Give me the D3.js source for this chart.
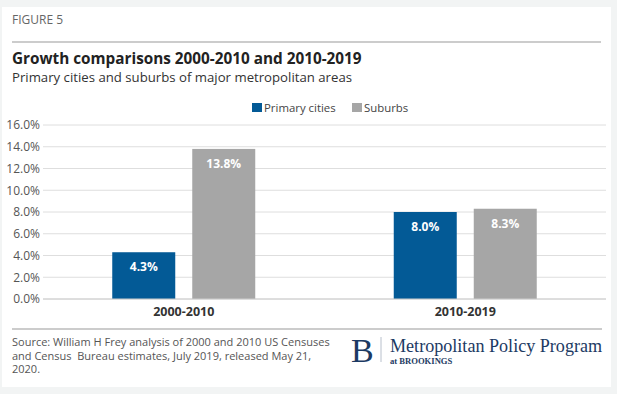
<!DOCTYPE html>
<html><head><meta charset="utf-8">
<script src="https://cdn.jsdelivr.net/npm/d3@7"></script>
<style>
body{margin:0;background:#f2f4f4;}
svg{display:block;}
</style></head><body>
<svg id="c" width="617" height="394"></svg>
<script>
const categories = ["2000-2010", "2010-2019"];
const seriesNames = ["Primary cities", "Suburbs"];
const primaryCities = [4.3, 8.0];
const suburbs = [13.8, 8.3];
const yTicks = [0, 2, 4, 6, 8, 10, 12, 14, 16];
const colors = ["#035a96", "#a6a6a6"];

const svg = d3.select("#c");
const font = "'Open Sans', sans-serif";
svg.append("rect").attr("x", 2).attr("y", 7).attr("width", 609).attr("height", 380).attr("fill", "#fff");

svg.append("text").attr("x", 12).attr("y", 24).attr("font-family", font).attr("font-size", 12).attr("fill", "#666").text("FIGURE 5");
svg.append("line").attr("x1", 12).attr("x2", 601).attr("y1", 42).attr("y2", 42).attr("stroke", "#999").attr("stroke-width", 1);
svg.append("text").attr("x", 12).attr("y", 63.5).attr("font-family", font).attr("font-size", 15.3).attr("font-weight", 700).attr("fill", "#222").text("Growth comparisons 2000-2010 and 2010-2019");
svg.append("text").attr("x", 12).attr("y", 81.5).attr("font-family", font).attr("font-size", 13.2).attr("fill", "#333").text("Primary cities and suburbs of major metropolitan areas");

// legend
const legX = [252, 352];
seriesNames.forEach((n, i) => {
  svg.append("rect").attr("x", legX[i]).attr("y", 103).attr("width", 10).attr("height", 9).attr("fill", colors[i]);
  svg.append("text").attr("x", legX[i] + 12).attr("y", 111.5).attr("font-family", font).attr("font-size", 11.4).attr("fill", "#444").text(n);
});

const x0 = d3.scaleBand().domain(categories).range([43, 606]);
const x1 = d3.scaleBand().domain(seriesNames).range([0, 143]).paddingInner(0.2125);
const y = d3.scaleLinear().domain([0, 16]).range([299, 125]);

svg.append("g").selectAll("line").data(yTicks).join("line")
  .attr("x1", 43).attr("x2", 606).attr("y1", d => y(d)).attr("y2", d => y(d))
  .attr("stroke", "#dedede").attr("stroke-width", 1);

const yAxis = d3.axisLeft(y).tickValues(yTicks).tickFormat(d => d.toFixed(1) + "%").tickSize(0).tickPadding(3);
const ya = svg.append("g").attr("transform", "translate(43,0)").call(yAxis);
ya.select(".domain").remove();
ya.selectAll("text").attr("font-family", font).attr("font-size", 12).attr("fill", "#555");

const data = categories.map((c, i) => ({cat: c, vals: [primaryCities[i], suburbs[i]]}));
const grp = svg.append("g").selectAll("g").data(data).join("g")
  .attr("transform", d => `translate(${x0(d.cat) + x0.bandwidth() / 2 - 71.5},0)`);
grp.selectAll("rect").data(d => d.vals.map((v, i) => ({v, s: seriesNames[i], i}))).join("rect")
  .attr("x", d => x1(d.s)).attr("width", x1.bandwidth())
  .attr("y", d => y(d.v)).attr("height", d => y(0) - y(d.v))
  .attr("fill", d => colors[d.i]);
grp.selectAll("text").data(d => d.vals.map((v, i) => ({v, s: seriesNames[i], i}))).join("text")
  .attr("x", d => x1(d.s) + x1.bandwidth() / 2).attr("y", d => y(d.v) + 19)
  .attr("text-anchor", "middle").attr("font-family", font).attr("font-size", 12).attr("font-weight", 700)
  .attr("fill", "#fff").text(d => d.v.toFixed(1) + "%");

svg.append("line").attr("x1", 43).attr("x2", 606).attr("y1", y(0)).attr("y2", y(0)).attr("stroke", "#ccc");

const xAxis = d3.axisBottom(x0).tickSize(0).tickPadding(8);
const xa = svg.append("g").attr("transform", `translate(0,${y(0)})`).call(xAxis);
xa.select(".domain").remove();
xa.selectAll("text").attr("font-family", font).attr("font-size", 12.5).attr("font-weight", 700).attr("fill", "#333");

svg.append("line").attr("x1", 12).attr("x2", 602).attr("y1", 329).attr("y2", 329).attr("stroke", "#999");
const src = ["Source: William H Frey analysis of 2000 and 2010 US Censuses", "and Census  Bureau estimates, July 2019, released May 21,", "2020."];
svg.append("text").attr("font-family", font).attr("font-size", 11).attr("fill", "#555")
  .selectAll("tspan").data(src).join("tspan").attr("x", 12).attr("y", (d, i) => 346 + i * 13.5).attr("xml:space", "preserve").text(d => d);

// logo
const serif = "'Liberation Serif', 'DejaVu Serif', serif";
svg.append("text").attr("x", 351).attr("y", 362).attr("font-family", serif).attr("font-size", 34).attr("fill", "#1c3a63").text("B");
svg.append("line").attr("x1", 381).attr("x2", 381).attr("y1", 337).attr("y2", 362).attr("stroke", "#b8c0cc");
svg.append("text").attr("x", 390).attr("y", 352).attr("font-family", serif).attr("font-size", 18.1).attr("fill", "#1c3a63").text("Metropolitan Policy Program");
svg.append("text").attr("x", 390).attr("y", 364).attr("font-family", serif).attr("font-size", 8.6).attr("font-weight", 700).attr("fill", "#1c3a63").text("at BROOKINGS");
</script>
</body></html>
